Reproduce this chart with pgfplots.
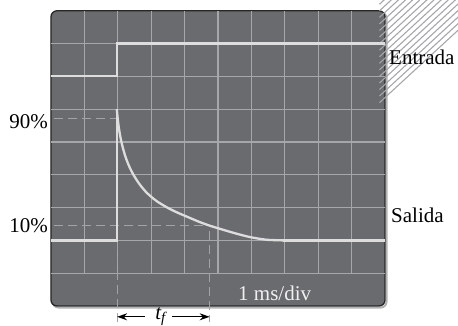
\documentclass[border=0pt]{standalone}
\usepackage{pgfplots}
\pgfplotsset{compat=1.18}
\usepackage{fontspec}
\setmainfont{Liberation Serif}
\usetikzlibrary{arrows.meta}
\definecolor{scr}{HTML}{6A6B6F}
\definecolor{grd}{HTML}{A6A7AA}
\definecolor{trc}{HTML}{DDDDDD}
\definecolor{dsh}{HTML}{A2A3A6}
\begin{document}
\begin{tikzpicture}[font=\fontsize{21bp}{25bp}\selectfont]
\begin{axis}[scale only axis, width=334bp, height=295.2bp,
  xmin=-5, xmax=5, ymin=-5, ymax=4, hide axis, clip=false]
% screen shadow and body
\draw[line width=2bp, color=black!30, rounded corners=6bp]
  ([xshift=1.6bp,yshift=-1.6bp]axis cs:-5,-5) rectangle ([xshift=1.6bp,yshift=-1.6bp]axis cs:5,4);
\filldraw[fill=scr, draw=black!85, line width=1.3bp, rounded corners=6bp]
  (axis cs:-5,-5) rectangle (axis cs:5,4);
% grid
\pgfplotsinvokeforeach{-4,...,4}{\draw[grd, line width=1.1bp] (axis cs:#1,-4) -- (axis cs:#1,4);}
\pgfplotsinvokeforeach{-4,...,3}{\draw[grd, line width=1.1bp] (axis cs:-5,#1) -- (axis cs:5,#1);}
% center minor ticks
\pgfplotsinvokeforeach{-4.8,-4.6,...,4.81}{\draw[grd, line width=1.1bp] (axis cs:#1,0) ++(0,-5bp) -- ++(0,10bp);}
\pgfplotsinvokeforeach{-3.8,-3.6,...,3.81}{\draw[grd, line width=1.1bp] (axis cs:0,#1) ++(-5.5bp,0) -- ++(11bp,0);}
% dashed reference lines
\draw[dsh, line width=1bp, dash pattern=on 9bp off 5bp] (axis cs:-4.9,0.72) -- (axis cs:-3,0.72);
\draw[dsh, line width=1bp, dash pattern=on 9bp off 5bp] (axis cs:-4.9,-2.55) -- (axis cs:-0.24,-2.55);
\draw[dsh, line width=1bp, dash pattern=on 9bp off 5bp] (axis cs:-3,-3.08) -- (axis cs:-3,-5.5);
\draw[dsh, line width=1bp, dash pattern=on 9bp off 5bp] (axis cs:-0.24,-2.72) -- (axis cs:-0.24,-5.5);
% traces
\addplot[trc, line width=2.2bp] coordinates {(-5,2) (-3.03,2) (-3.03,3) (5,3)};
\addplot[trc, line width=2.3bp] coordinates {(-5,-3) (-3.03,-3) (-3.03,1)};
\addplot[trc, line width=2.3bp, smooth] coordinates {
  (-3.03,1) (-2.99,0.6) (-2.94,0.25) (-2.88,-0.05) (-2.78,-0.42) (-2.66,-0.74)
  (-2.52,-1.02) (-2.34,-1.30) (-2.12,-1.56) (-1.84,-1.80) (-1.50,-2.01)
  (-1.20,-2.16) (-0.90,-2.29) (-0.55,-2.44) (-0.25,-2.55) (0.1,-2.66)
  (0.5,-2.78) (0.96,-2.90) (1.45,-2.98) (1.95,-3.0)};
\addplot[trc, line width=2.3bp] coordinates {(1.95,-3) (5,-3)};
% labels
\node[anchor=base west, inner sep=0] at (axis cs:5.12,2.35) {Entrada};
\node[anchor=base west, inner sep=0] at (axis cs:5.18,-2.47) {Salida};
\node[anchor=base east, inner sep=0] at (axis cs:-5.09,0.40) {90\%};
\node[anchor=base east, inner sep=0] at (axis cs:-5.09,-2.77) {10\%};
\node[anchor=base west, inner sep=0, text=white!94!black] at (axis cs:0.6,-4.82) {1 ms/div};
\node[anchor=base, inner sep=0] at (axis cs:-1.72,-5.42) {\itshape t\textsubscript{\itshape f}};
\draw[-{Stealth[length=10bp,width=7bp]}, line width=1.2bp] (axis cs:-2.19,-5.33) -- (axis cs:-3.02,-5.33);
\draw[-{Stealth[length=10bp,width=7bp]}, line width=1.2bp] (axis cs:-1.38,-5.33) -- (axis cs:-0.25,-5.33);
\coordinate (bbll) at (axis cs:-6.527,-5.610);
\coordinate (bbur) at (axis cs:7.186,4.329);
\end{axis}
\pgfresetboundingbox
\path[use as bounding box] (bbll) rectangle (bbur);
\end{tikzpicture}
\end{document}
